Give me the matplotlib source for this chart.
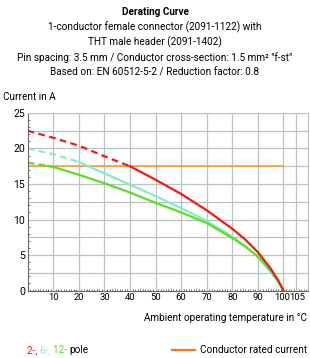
import numpy as np
import matplotlib
matplotlib.use("Agg")
import matplotlib.pyplot as plt
import matplotlib.transforms as mtransforms
from matplotlib.ticker import MultipleLocator

plt.rcParams['font.family'] = ['Roboto', 'DejaVu Sans']

# temperature (deg C) and current (A)
t_red = [0, 10, 20, 30, 40, 50, 60, 70, 80, 85, 90, 95, 98, 100]
i_red = [22.5, 21.5, 20.4, 18.9, 17.5, 15.6, 13.6, 11.3, 8.7, 7.2, 5.4, 3.1, 1.4, 0.0]
red_split = 40

t_cyan = [0, 10, 20, 30, 40, 50, 60, 70, 80, 85, 90, 95, 98, 100]
i_cyan = [20.0, 19.2, 18.1, 16.5, 14.9, 13.3, 11.6, 9.8, 7.6, 6.3, 4.7, 2.6, 1.2, 0.0]
cyan_split = 20

t_green = [0, 8, 10, 20, 30, 40, 50, 60, 70, 80, 85, 90, 95, 98, 100]
i_green = [18.0, 17.55, 17.4, 16.3, 15.1, 13.8, 12.35, 11.0, 9.5, 7.4, 6.2, 4.8, 2.8, 1.3, 0.0]
green_split = 8

rated_current = 17.5
rated_t = [0, 100]

x_ticks = [10, 20, 30, 40, 50, 60, 70, 80, 90, 100, 105]
y_grid = [0, 2.5, 5, 7.5, 10, 12.5, 15, 17.5, 20, 22.5, 25]

title = "Derating Curve"
title_lines = [
    "1-conductor female connector (2091-1122) with",
    "THT male header (2091-1402)",
    "Pin spacing: 3.5 mm / Conductor cross-section: 1.5 mm\u00b2 \"f-st\"",
    "Based on: EN 60512-5-2 / Reduction factor: 0.8",
]

RED = "#f01c14"
CYAN = "#86ecc8"
GREEN = "#5fdc28"
ORANGE = "#ff9a1e"
GRID = "#b9c3c3"

fig = plt.figure(figsize=(3.10, 3.58), dpi=100)
r = fig.canvas.get_renderer()

# fit font size so the widest title line spans about 275 px
probe = fig.text(0, 0, title_lines[2], fontsize=10)
w = probe.get_window_extent(renderer=r).width
probe.remove()
FS = 10 * 275 / w

ax = fig.add_axes([0.0894, 0.1885, 0.9032, 0.4959])


def draw_curve(t, i, split, color):
    t = np.array(t)
    i = np.array(i)
    k = int(np.searchsorted(t, split))
    ax.plot(t[:k + 1], i[:k + 1], color=color, lw=1.6, ls=(0, (3, 2)))
    ax.plot(t[k:], i[k:], color=color, lw=1.6)


ax.plot(rated_t, [rated_current] * 2, color=ORANGE, lw=1.1, zorder=2)
draw_curve(t_cyan, i_cyan, cyan_split, CYAN)
draw_curve(t_green, i_green, green_split, GREEN)
draw_curve(t_red, i_red, red_split, RED)

ax.set_xlim(0, 109.5)
ax.set_ylim(0, 25)
ax.set_xticks(x_ticks)
ax.set_yticks(y_grid)
ax.set_yticklabels([str(int(v)) if v % 5 == 0 else "" for v in y_grid])
ax.xaxis.set_minor_locator(MultipleLocator(1))
ax.yaxis.set_minor_locator(MultipleLocator(1))
ax.grid(True, which="major", color=GRID, lw=0.9)
ax.set_axisbelow(True)
ax.tick_params(axis="y", which="major", labelsize=FS * 1.05, length=0, pad=2)
ax.tick_params(axis="x", which="major", labelsize=FS * 0.95, length=0, pad=2)
ax.tick_params(axis="both", which="minor", direction="in", length=1.5,
               color="#555555", width=0.6)
for side in ["top", "right"]:
    ax.spines[side].set_color(GRID)
for side in ["left", "bottom"]:
    ax.spines[side].set_color("#666666")
    ax.spines[side].set_linewidth(0.8)

# the last two x labels sit very close; nudge them apart a little
labels = ax.get_xticklabels()
for lab, dx in [(labels[-2], -1.5), (labels[-1], 1.5)]:
    lab.set_transform(lab.get_transform() +
                      mtransforms.ScaledTranslation(dx / 100, 0, fig.dpi_scale_trans))

fig.text(0.5, 1 - 12 / 358, title, ha="center", va="center",
         fontsize=FS, fontweight="bold")
for n, line in enumerate(title_lines):
    fig.text(0.5, 1 - (27 + 15.3 * n) / 358, line, ha="center", va="center",
             fontsize=FS)
fig.text(3 / 310, 1 - 97 / 358, "Current in A", ha="left", va="center",
         fontsize=FS)
fig.text(307 / 310, 1 - 318 / 358, "Ambient operating temperature in \u00b0C",
         ha="right", va="center", fontsize=FS)

# legend row
y_leg = 1 - 350 / 358
parts = [("2-, ", RED), ("6-, ", CYAN), ("12- ", GREEN), ("pole", "black")]
x = 27 / 310
for txt, col in parts:
    t = fig.text(x, y_leg, txt, ha="left", va="center", fontsize=FS, color=col)
    x += t.get_window_extent(renderer=r).width / fig.bbox.width
fig.add_artist(plt.Line2D([172 / 310, 195 / 310], [y_leg, y_leg],
                          color="#f07a1e", lw=1.6))
fig.text(307 / 310, y_leg, "Conductor rated current", ha="right", va="center",
         fontsize=FS)

fig.savefig("out.png", dpi=100)
